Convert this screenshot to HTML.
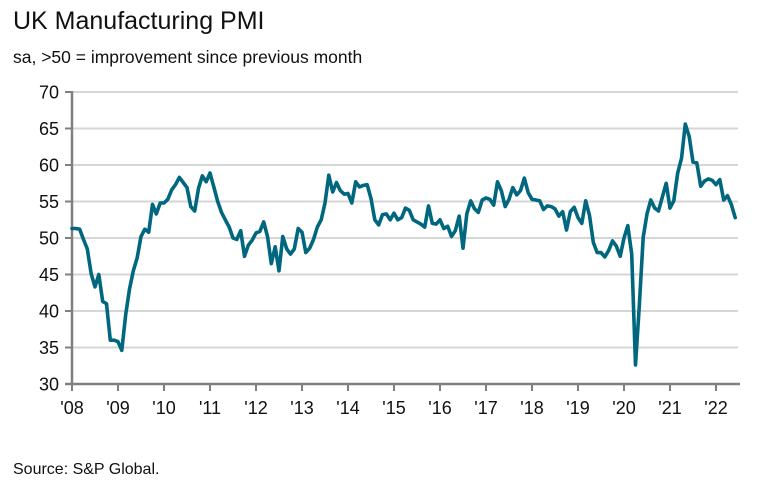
<!DOCTYPE html>
<html><head><meta charset="utf-8"><style>
html,body{margin:0;padding:0;background:#fff;}
svg{display:block;font-family:"Liberation Sans",sans-serif;}
</style></head><body>
<svg id="chart" width="770" height="486" viewBox="0 0 770 486" xmlns="http://www.w3.org/2000/svg">
<text x="13" y="29" font-size="25" fill="#111">UK Manufacturing PMI</text>
<text x="13" y="63" font-size="17.5" fill="#111">sa, &gt;50 = improvement since previous month</text>
<text x="13" y="474" font-size="16" fill="#111">Source: S&amp;P Global.</text>
<g id="grid"></g><g id="axes"></g><g id="series"></g>
</svg>
<script>
const yTicks=[30,35,40,45,50,55,60,65,70];
const xTickLabels=["'08","'09","'10","'11","'12","'13","'14","'15","'16","'17","'18","'19","'20","'21","'22"];
const startYear=2008;
const pmi2008=[51.3,51.3,51.2,49.8,48.5,45.1,43.3,45.0,41.3,41.0,36.0,36.0];
const pmi2009=[35.8,34.6,39.5,43.0,45.5,47.3,50.2,51.2,50.8,54.6,53.3,54.8];
const pmi2010=[54.8,55.3,56.6,57.3,58.3,57.6,56.9,54.3,53.7,56.8,58.5,57.7];
const pmi2011=[58.9,57.0,55.0,53.5,52.5,51.5,50.0,49.8,51.0,47.5,49.0,49.7];
const pmi2012=[50.7,50.9,52.2,50.2,46.5,48.8,45.5,50.2,48.5,47.8,48.5,51.3];
const pmi2013=[50.8,48.0,48.6,49.8,51.5,52.5,54.8,58.6,56.3,57.6,56.5,56.0];
const pmi2014=[56.1,54.8,57.7,57.0,57.2,57.3,55.4,52.5,51.8,53.2,53.3,52.5];
const pmi2015=[53.4,52.5,52.8,54.1,53.8,52.5,52.2,51.9,51.5,54.4,52.0,51.9];
const pmi2016=[52.5,51.3,51.6,50.2,51.0,53.0,48.6,53.3,55.1,54.0,53.5,55.2];
const pmi2017=[55.5,55.3,54.5,57.7,56.5,54.3,55.3,56.9,55.9,56.5,58.2,56.2];
const pmi2018=[55.3,55.2,55.1,53.9,54.4,54.3,54.0,53.0,53.6,51.1,53.6,54.2];
const pmi2019=[52.8,52.0,55.1,53.1,49.4,48.0,48.0,47.4,48.3,49.6,48.9,47.5];
const pmi2020=[50.0,51.7,47.8,32.6,40.7,50.1,53.3,55.2,54.1,53.7,55.6,57.5];
const pmi2021=[54.1,55.1,58.9,60.9,65.6,63.9,60.4,60.3,57.1,57.8,58.1,57.9];
const pmi2022=[57.3,58.0,55.2,55.8,54.6,52.8];
const values=[].concat(pmi2008,pmi2009,pmi2010,pmi2011,pmi2012,pmi2013,pmi2014,pmi2015,pmi2016,pmi2017,pmi2018,pmi2019,pmi2020,pmi2021,pmi2022);

const NS="http://www.w3.org/2000/svg";
const x0=72, yrW=46.0, yTop=92, yBot=384, vMin=30, vMax=70;
function xScale(m){return x0+m*yrW/12;}
function yScale(v){return yBot-(v-vMin)/(vMax-vMin)*(yBot-yTop);}
function mk(tag,attrs,parent){const e=document.createElementNS(NS,tag);for(const k in attrs)e.setAttribute(k,attrs[k]);parent.appendChild(e);return e;}
const grid=document.getElementById('grid'),axes=document.getElementById('axes'),series=document.getElementById('series');
yTicks.forEach(v=>{
  const y=yScale(v);
  if(v>vMin){const g=mk('line',{x1:x0,x2:738,y1:y,y2:y,stroke:'#d6d6d6','stroke-width':2},grid);
  
  }
  const t=mk('line',{x1:x0-7,x2:x0,y1:y,y2:y,stroke:'#808080','stroke-width':2},axes);
  
  
  const l=mk('text',{x:x0-13,y:y+6.5,'font-size':18,'text-anchor':'end',fill:'#111'},axes);
  l.textContent=v;
  
  
});
const ya=mk('line',{x1:x0,x2:x0,y1:yTop-1,y2:yBot,stroke:'#808080','stroke-width':2.5},axes);


const xa=mk('line',{x1:x0-7,x2:740,y1:yBot,y2:yBot,stroke:'#808080','stroke-width':2.5},axes);


xTickLabels.forEach((lab,i)=>{
  const x=xScale(i*12);
  const t=mk('line',{x1:x,x2:x,y1:yBot,y2:yBot+7,stroke:'#808080','stroke-width':2},axes);
  
  
  const l=mk('text',{x:x,y:yBot+30,'font-size':18,'text-anchor':'middle',fill:'#111'},axes);
  l.textContent=lab;
  
  
});
const pts=values.map((v,i)=>xScale(i).toFixed(1)+','+yScale(v).toFixed(1)).join(' ');
const line=mk('polyline',{points:pts,fill:'none',stroke:'#00677f','stroke-width':3.6,'stroke-linejoin':'round','stroke-linecap':'round'},series);


</script>
</body></html>
